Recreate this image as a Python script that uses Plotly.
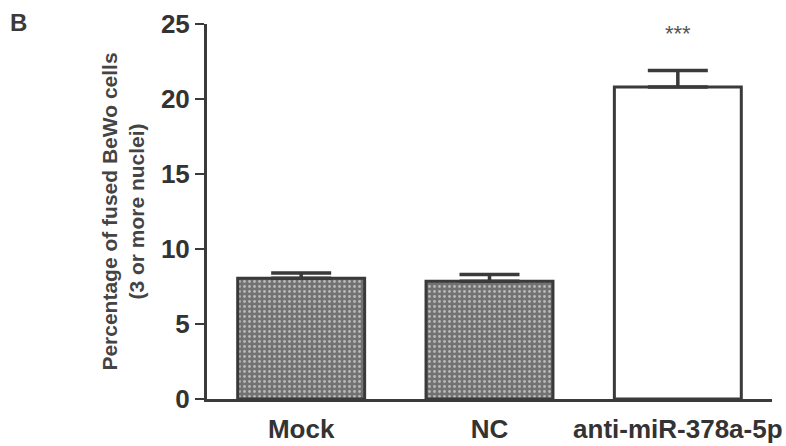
import plotly.graph_objects as go

categories = ["Mock", "NC", "anti-miR-378a-5p"]
values = [8.05, 7.85, 20.8]
errors = [0.35, 0.45, 1.1]
significance = ["", "", "***"]
y_ticks = [0, 5, 10, 15, 20, 25]

FONT = "Liberation Sans, Arial, sans-serif"
INK = "#3a3a3a"

fig = go.Figure()
fig.add_trace(go.Bar(
    x=categories,
    y=values,
    width=0.674,
    marker=dict(
        color=["#727272", "#727272", "#ffffff"],
        line=dict(color=INK, width=3),
        pattern=dict(shape=[".", ".", ""], size=5, solidity=0.25,
                     fgcolor="#a2a2a2", fillmode="overlay"),
    ),
    error_y=dict(type="data", array=errors, arrayminus=[0, 0, 0], symmetric=False,
                 color=INK, thickness=3.5, width=30),
    showlegend=False,
    textposition="none",
    hoverinfo="skip",
))

for c, v, e, s in zip(categories, values, errors, significance):
    if s:
        fig.add_annotation(x=c, y=v + e, text=s, showarrow=False, yshift=37,
                           yanchor="middle",
                           font=dict(family=FONT, size=22, color="#555"))

fig.add_annotation(xref="paper", yref="paper", x=-0.352, y=1.005, text="<b>B</b>",
                   showarrow=False, xanchor="left", yanchor="middle",
                   font=dict(family=FONT, size=24, color=INK))

fig.update_layout(
    template="none",
    width=786, height=446,
    margin=dict(l=207, r=14, t=24, b=47, autoexpand=False),
    plot_bgcolor="white", paper_bgcolor="white",
    xaxis=dict(range=[-0.5, 2.5], showline=True, linecolor=INK, linewidth=3,
               ticks="", showgrid=False, zeroline=False, ticklabeloverflow="allow",
               automargin=False, ticklabelstandoff=5,
               tickfont=dict(family=FONT, size=26, color="#333", weight="bold")),
    yaxis=dict(range=[0, 25], tickvals=y_ticks, showline=True, linecolor=INK, linewidth=3,
               ticks="outside", ticklen=9, tickwidth=2, tickcolor=INK,
               showgrid=False, zeroline=False, automargin=False,
               tickfont=dict(family=FONT, size=26, color="#333", weight="bold"),
               title=dict(text="Percentage of fused BeWo cells<br>(3 or more nuclei)",
                          standoff=11,
                          font=dict(family=FONT, size=21, color="#444", weight="bold"))),
)

fig.write_html("out.html", config={"displayModeBar": False},
               post_script="document.body.style.margin='0';document.body.style.padding='0';")
